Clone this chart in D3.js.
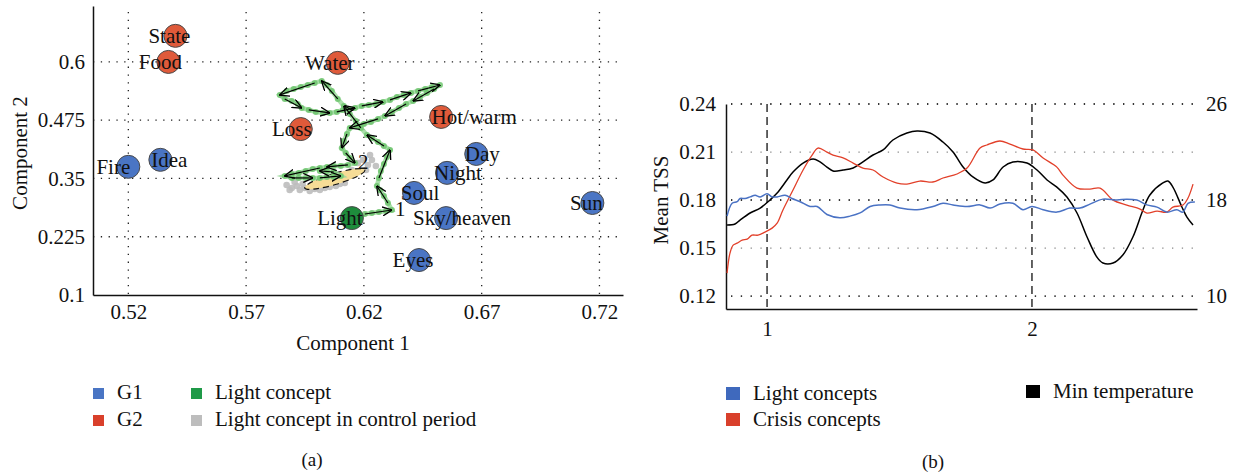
<!DOCTYPE html>
<html lang="en">
<head>
<meta charset="utf-8">
<title>Light concept trajectory and TSS</title>
<script src="https://cdn.jsdelivr.net/npm/d3@7"></script>
<style>
body { margin: 0; background: #fff; }
svg { display: block; }
text { font-family: "Liberation Serif", "DejaVu Serif", serif; fill: #111; }
.axis path { stroke: #111; stroke-width: 1.5px; }
.axis text { font-size: 21px; }
.grid { stroke: #222; stroke-width: 1.3px; stroke-dasharray: 1.3,6.5; }
.gridgrey { stroke: #888; stroke-width: 1.3px; stroke-dasharray: 1.3,8.5; }
.gridblack { stroke: #111; stroke-width: 1.3px; stroke-dasharray: 1.3,8.5; }
</style>
</head>
<body>
<script>
// ---- panel (a): concepts in component space ----
var concepts = ["State", "Food", "Fire", "Idea", "Loss", "Water", "Hot/warm", "Day", "Night", "Soul", "Sky/heaven", "Sun", "Eyes", "Light"];
var comp1 = [0.540, 0.537, 0.520, 0.5336, 0.5932, 0.6089, 0.6528, 0.6677, 0.6553, 0.6413, 0.6549, 0.717, 0.6434, 0.6149];
var comp2 = [0.656, 0.600, 0.375, 0.390, 0.456, 0.598, 0.482, 0.4026, 0.362, 0.319, 0.265, 0.2974, 0.175, 0.265];
var groups = ["G2", "G2", "G1", "G1", "G2", "G2", "G2", "G1", "G1", "G1", "G1", "G1", "G1", "Light"];

var xTicksA = [0.52, 0.57, 0.62, 0.67, 0.72];
var yTicksA = [0.1, 0.225, 0.35, 0.475, 0.6];

// trajectory of the light concept (component 1, component 2)
var trajectory = [
  [0.6204, 0.2738], [0.6234, 0.2760], [0.6264, 0.2781], [0.6294, 0.2803], [0.6319, 0.2824],
  [0.6302, 0.2974], [0.6285, 0.3124], [0.6268, 0.3253], [0.6255, 0.3339],
  [0.6264, 0.3511], [0.6272, 0.3661], [0.6285, 0.3811], [0.6298, 0.3961], [0.6311, 0.4112],
  [0.6285, 0.4197], [0.6260, 0.4283], [0.6234, 0.4369], [0.6213, 0.4433],
  [0.6187, 0.4584], [0.6166, 0.4734], [0.6140, 0.4884], [0.6115, 0.5056], [0.6089, 0.5206], [0.6064, 0.5378], [0.6043, 0.5506], [0.6021, 0.5592],
  [0.5991, 0.5549], [0.5962, 0.5506], [0.5932, 0.5464], [0.5902, 0.5421], [0.5872, 0.5378], [0.5843, 0.5292],
  [0.5864, 0.5206], [0.5894, 0.5163], [0.5919, 0.5099], [0.5936, 0.5013],
  [0.5966, 0.4970], [0.5996, 0.4927], [0.6026, 0.4906], [0.6055, 0.4906],
  [0.6085, 0.4927], [0.6111, 0.4970], [0.6136, 0.4991], [0.6162, 0.5013],
  [0.6191, 0.5056], [0.6221, 0.5077], [0.6251, 0.5099], [0.6281, 0.5142], [0.6311, 0.5185], [0.6340, 0.5249],
  [0.6370, 0.5292], [0.6400, 0.5335], [0.6430, 0.5378], [0.6460, 0.5421], [0.6489, 0.5464], [0.6523, 0.5506],
  [0.6498, 0.5421], [0.6468, 0.5335], [0.6438, 0.5249], [0.6409, 0.5163], [0.6379, 0.5099], [0.6349, 0.5013],
  [0.6319, 0.4927], [0.6289, 0.4841], [0.6260, 0.4777], [0.6230, 0.4712], [0.6200, 0.4670], [0.6170, 0.4627], [0.6140, 0.4584],
  [0.6128, 0.4455], [0.6115, 0.4305], [0.6106, 0.4155],
  [0.6123, 0.4047], [0.6140, 0.3940], [0.6162, 0.3833],
  [0.6132, 0.3790], [0.6102, 0.3768], [0.6072, 0.3768], [0.6043, 0.3747], [0.6013, 0.3725],
  [0.5983, 0.3704], [0.5953, 0.3661], [0.5923, 0.3618], [0.5894, 0.3597], [0.5864, 0.3554],
  [0.5894, 0.3511], [0.5923, 0.3511], [0.5953, 0.3511], [0.5983, 0.3511], [0.6013, 0.3511],
  [0.6043, 0.3532], [0.6072, 0.3532], [0.6102, 0.3554],
  [0.6072, 0.3639], [0.6043, 0.3661], [0.6013, 0.3661]
];
// arrows: from step to step along the trajectory
var arrowSteps = [[0, 4], [5, 8], [9, 13], [14, 17], [18, 21], [22, 25], [26, 31], [32, 35], [36, 39],
  [40, 43], [44, 47], [48, 51], [52, 55], [56, 59], [60, 63], [64, 68], [69, 71], [72, 74],
  [75, 78], [79, 84], [85, 88], [89, 92], [93, 95]];
var periodMarks = [[4, "1"], [74, "2"]];

// light concept in the control period
var controlPoints = [
  [0.5872, 0.3361], [0.5894, 0.3296], [0.5915, 0.3339], [0.5928, 0.3253], [0.5949, 0.3296], [0.5970, 0.3232],
  [0.5991, 0.3275], [0.6013, 0.3253], [0.6034, 0.3296], [0.6055, 0.3318], [0.6081, 0.3339], [0.6098, 0.3382],
  [0.5906, 0.3425], [0.5940, 0.3382], [0.5979, 0.3339], [0.5885, 0.3253], [0.6004, 0.3339], [0.6119, 0.3404],
  [0.6174, 0.3833], [0.6196, 0.3897], [0.6217, 0.3790], [0.6234, 0.3897], [0.6251, 0.3768], [0.6209, 0.3682],
  [0.6149, 0.3682], [0.6226, 0.4004]
];
// ellipse: major axis end points
var ellipseEnds = [[0.5949, 0.3296], [0.6204, 0.3682]];

// ---- panel (b): mean TSS over time ----
var lightTime = [0.849, 0.868, 0.887, 0.898, 0.917, 0.936, 0.955, 0.974, 1.0, 1.019, 1.038, 1.068, 1.094, 1.125, 1.162, 1.189,
  1.226, 1.275, 1.313, 1.351, 1.389, 1.426, 1.464, 1.502, 1.566, 1.626, 1.664, 1.702, 1.755, 1.804, 1.842, 1.879, 1.928,
  1.966, 2.0, 2.042, 2.094, 2.143, 2.181, 2.219, 2.268, 2.321, 2.358, 2.396, 2.434, 2.472, 2.509, 2.547, 2.570, 2.589, 2.615];
var lightTSS = [0.170, 0.178, 0.179, 0.181, 0.181, 0.182, 0.183, 0.182, 0.184, 0.182, 0.182, 0.183, 0.181, 0.179, 0.176, 0.176,
  0.171, 0.169, 0.170, 0.172, 0.176, 0.177, 0.177, 0.175, 0.174, 0.176, 0.178, 0.177, 0.176, 0.177, 0.175, 0.1775, 0.178,
  0.174, 0.176, 0.174, 0.1725, 0.175, 0.175, 0.1775, 0.1806, 0.180, 0.1806, 0.180, 0.177, 0.1756, 0.1725, 0.174, 0.1725, 0.178, 0.1788];

var crisisTime = [0.849, 0.860, 0.872, 0.887, 0.906, 0.925, 0.943, 0.966, 0.992, 1.019, 1.038, 1.060, 1.098, 1.136, 1.170, 1.192,
  1.226, 1.249, 1.287, 1.325, 1.362, 1.400, 1.438, 1.491, 1.528, 1.577, 1.626, 1.664, 1.717, 1.755, 1.804, 1.830, 1.879, 1.917,
  1.966, 2.004, 2.042, 2.094, 2.117, 2.170, 2.219, 2.257, 2.306, 2.358, 2.408, 2.434, 2.472, 2.509, 2.532, 2.570, 2.589, 2.608];
var crisisTSS = [0.1344, 0.1469, 0.1519, 0.1531, 0.155, 0.1556, 0.1581, 0.1581, 0.160, 0.1625, 0.1656, 0.1738, 0.1863, 0.1988, 0.2081, 0.2125,
  0.210, 0.2081, 0.2063, 0.2031, 0.200, 0.1988, 0.1944, 0.1906, 0.190, 0.1919, 0.1913, 0.1938, 0.1963, 0.200, 0.2125, 0.2144, 0.2169, 0.215,
  0.2119, 0.2113, 0.2063, 0.2006, 0.1956, 0.1875, 0.1869, 0.1875, 0.180, 0.1769, 0.1744, 0.1719, 0.1731, 0.1725, 0.1756, 0.1769, 0.1813, 0.190];

var tempTime = [0.849, 0.879, 0.898, 0.936, 0.974, 1.011, 1.038, 1.075, 1.098, 1.136, 1.174, 1.200, 1.226, 1.249, 1.287, 1.325,
  1.362, 1.400, 1.438, 1.475, 1.528, 1.566, 1.615, 1.664, 1.702, 1.740, 1.777, 1.823, 1.853, 1.891, 1.928, 1.981, 2.019,
  2.057, 2.094, 2.132, 2.170, 2.208, 2.245, 2.268, 2.306, 2.343, 2.381, 2.419, 2.445, 2.494, 2.513, 2.532, 2.566, 2.585, 2.608];
var minTemp = [15.92, 16.0, 16.33, 16.92, 17.33, 18.0, 18.58, 19.67, 20.33, 21.08, 21.42, 21.17, 20.75, 20.42, 20.5, 20.67,
  21.17, 21.75, 22.17, 23.0, 23.58, 23.75, 23.58, 22.83, 22.0, 20.75, 19.92, 19.42, 19.67, 20.75, 21.17, 21.08, 20.5,
  19.67, 19.08, 18.25, 16.92, 14.92, 13.25, 12.75, 12.75, 13.42, 14.92, 17.17, 18.42, 19.42, 19.58, 19.08, 17.42, 16.58, 15.92];

var tssTicks = [0.12, 0.15, 0.18, 0.21, 0.24];
var tempTicks = [10, 18, 26];
var periodTicks = [1, 2];

var colors = { G1: "#4a75c4", G2: "#df5a3a", Light: "#1e8c3c" };

var svg = d3.select("body").append("svg")
  .attr("width", 1233)
  .attr("height", 473);

// ================= panel (a) =================
var xA = d3.scaleLinear().domain([0.505, 0.73]).range([93, 623]);
var yA = d3.scaleLinear().domain([0.1, 0.72]).range([295, 6]);

var ga = svg.append("g");

ga.selectAll("line.vgrid")
  .data(xTicksA)
  .enter().append("line")
  .attr("class", "grid")
  .attr("x1", function(d) { return xA(d); })
  .attr("x2", function(d) { return xA(d); })
  .attr("y1", yA.range()[1] + 6)
  .attr("y2", yA.range()[0]);
ga.selectAll("line.hgrid")
  .data(yTicksA.slice(1))
  .enter().append("line")
  .attr("class", "grid")
  .attr("x1", xA.range()[0])
  .attr("x2", xA.range()[1])
  .attr("y1", function(d) { return yA(d); })
  .attr("y2", function(d) { return yA(d); });

ga.append("g")
  .attr("class", "axis")
  .attr("transform", "translate(0,295)")
  .call(d3.axisBottom(xA).tickValues(xTicksA).tickSize(0).tickSizeOuter(0).tickPadding(9).tickFormat(String));
ga.append("g")
  .attr("class", "axis")
  .attr("transform", "translate(93,0)")
  .call(d3.axisLeft(yA).tickValues(yTicksA).tickSize(0).tickSizeOuter(0).tickPadding(8).tickFormat(String));

ga.append("text")
  .attr("x", 353).attr("y", 350)
  .attr("text-anchor", "middle")
  .style("font-size", "21px")
  .text("Component 1");
ga.append("text")
  .attr("transform", "translate(27,153) rotate(-90)")
  .attr("text-anchor", "middle")
  .style("font-size", "21px")
  .text("Component 2");

// control period
ga.selectAll("circle.ctrl")
  .data(controlPoints)
  .enter().append("circle")
  .attr("cx", function(d) { return xA(d[0]); })
  .attr("cy", function(d) { return yA(d[1]); })
  .attr("r", 3.3)
  .attr("fill", "#bdbdbd")
  .attr("opacity", 0.9);

// ellipse
var e0 = [xA(ellipseEnds[0][0]), yA(ellipseEnds[0][1])];
var e1 = [xA(ellipseEnds[1][0]), yA(ellipseEnds[1][1])];
var ecx = (e0[0] + e1[0]) / 2, ecy = (e0[1] + e1[1]) / 2;
var erx = Math.hypot(e1[0] - e0[0], e1[1] - e0[1]) / 2;
var eang = Math.atan2(e1[1] - e0[1], e1[0] - e0[0]) * 180 / Math.PI;
ga.append("ellipse")
  .attr("cx", ecx).attr("cy", ecy)
  .attr("rx", erx).attr("ry", 5.5)
  .attr("transform", "rotate(" + eang + "," + ecx + "," + ecy + ")")
  .attr("fill", "#f6dc96")
  .attr("stroke", "#111")
  .attr("stroke-width", 1.2)
  .attr("stroke-dasharray", "6,4");

// trajectory
ga.append("path")
  .datum(trajectory)
  .attr("fill", "none")
  .attr("stroke", "#9bd99b")
  .attr("stroke-width", 4.5)
  .attr("opacity", 0.85)
  .attr("d", d3.line().x(function(d) { return xA(d[0]); }).y(function(d) { return yA(d[1]); }));
ga.selectAll("circle.traj")
  .data(trajectory)
  .enter().append("circle")
  .attr("cx", function(d) { return xA(d[0]); })
  .attr("cy", function(d) { return yA(d[1]); })
  .attr("r", 3)
  .attr("fill", "#6fc46f")
  .attr("opacity", 0.85);

svg.append("defs").append("marker")
  .attr("id", "arr")
  .attr("viewBox", "0 0 10 10")
  .attr("refX", 9.5).attr("refY", 5)
  .attr("markerWidth", 10).attr("markerHeight", 10)
  .attr("markerUnits", "userSpaceOnUse")
  .attr("orient", "auto")
  .append("path")
  .attr("d", "M0,0.5 L10,5 L0,9.5")
  .attr("fill", "none")
  .attr("stroke", "#000")
  .attr("stroke-width", 1.3);

ga.selectAll("line.arrow")
  .data(arrowSteps)
  .enter().append("line")
  .attr("x1", function(d) { return xA(trajectory[d[0]][0]); })
  .attr("y1", function(d) { return yA(trajectory[d[0]][1]); })
  .attr("x2", function(d) { return xA(trajectory[d[1]][0]); })
  .attr("y2", function(d) { return yA(trajectory[d[1]][1]); })
  .attr("stroke", "#000")
  .attr("stroke-width", 1.2)
  .attr("marker-end", "url(#arr)");

ga.selectAll("text.period")
  .data(periodMarks)
  .enter().append("text")
  .attr("x", function(d) { return xA(trajectory[d[0]][0]) + 3; })
  .attr("y", function(d) { return yA(trajectory[d[0]][1]) + 6; })
  .style("font-size", "21px")
  .text(function(d) { return d[1]; });

// concepts
var labelShift = { "State": -6, "Food": -8, "Fire": -15, "Idea": 9, "Loss": -9, "Water": -8, "Hot/warm": 33,
  "Day": 6, "Night": 11, "Soul": 6, "Sky/heaven": 16, "Sun": -6, "Eyes": -6, "Light": -12 };

ga.selectAll("circle.concept")
  .data(concepts)
  .enter().append("circle")
  .attr("cx", function(d, i) { return xA(comp1[i]); })
  .attr("cy", function(d, i) { return yA(comp2[i]); })
  .attr("r", 11.5)
  .attr("fill", function(d, i) { return colors[groups[i]]; })
  .attr("stroke", "#4a4a4a")
  .attr("stroke-width", 1);
ga.selectAll("text.concept")
  .data(concepts)
  .enter().append("text")
  .attr("x", function(d, i) { return xA(comp1[i]) + labelShift[d]; })
  .attr("y", function(d, i) { return yA(comp2[i]) + 7; })
  .attr("text-anchor", "middle")
  .style("font-size", "21px")
  .text(function(d) { return d; });

// legend (a)
var legendA = [["G1", colors.G1, 93, 388], ["G2", "#d9402b", 93, 415],
  ["Light concept", "#1f9a48", 191, 388], ["Light concept in control period", "#bdbdbd", 191, 415]];
var la = ga.selectAll("g.lega").data(legendA).enter().append("g");
la.append("rect")
  .attr("x", function(d) { return d[2]; }).attr("y", function(d) { return d[3]; })
  .attr("width", 11).attr("height", 11)
  .attr("fill", function(d) { return d[1]; });
la.append("text")
  .attr("x", function(d) { return d[2] + 24; }).attr("y", function(d) { return d[3] + 11; })
  .style("font-size", "21px")
  .text(function(d) { return d[0]; });
ga.append("text").attr("x", 312).attr("y", 466).attr("text-anchor", "middle").style("font-size", "19px").text("(a)");

// ================= panel (b) =================
var xB = d3.scaleLinear().domain([0.845, 2.623]).range([726, 1197]);
var yB = d3.scaleLinear().domain([0.112, 0.24]).range([309, 104]);
var yT = d3.scaleLinear().domain([8.92, 26]).range([309, 104]);

var gb = svg.append("g");

gb.selectAll("line.tgrid")
  .data(tssTicks)
  .enter().append("line")
  .attr("class", "gridgrey")
  .attr("x1", 731).attr("x2", 1197)
  .attr("y1", function(d) { return yB(d); })
  .attr("y2", function(d) { return yB(d); });
gb.selectAll("line.kgrid")
  .data(tempTicks)
  .enter().append("line")
  .attr("class", "gridblack")
  .attr("x1", 731).attr("x2", 1197)
  .attr("y1", function(d) { return yT(d); })
  .attr("y2", function(d) { return yT(d); });

gb.selectAll("line.period")
  .data(periodTicks)
  .enter().append("line")
  .attr("x1", function(d) { return xB(d); })
  .attr("x2", function(d) { return xB(d); })
  .attr("y1", yB(0.24)).attr("y2", 309)
  .attr("stroke", "#222")
  .attr("stroke-width", 1.4)
  .attr("stroke-dasharray", "8,5");

gb.append("g")
  .attr("class", "axis")
  .attr("transform", "translate(0,309)")
  .call(d3.axisBottom(xB).tickValues(periodTicks).tickSize(0).tickSizeOuter(0).tickPadding(12).tickFormat(String));
gb.append("g")
  .attr("class", "axis")
  .attr("transform", "translate(726,0)")
  .call(d3.axisLeft(yB).tickValues(tssTicks).tickSize(0).tickSizeOuter(0).tickPadding(10).tickFormat(String));
var rightAxis = gb.append("g")
  .attr("class", "axis")
  .attr("transform", "translate(1197,0)")
  .call(d3.axisRight(yT).tickValues(tempTicks).tickSize(0).tickPadding(9));
rightAxis.select(".domain").remove();

gb.append("text")
  .attr("transform", "translate(668,200) rotate(-90)")
  .attr("text-anchor", "middle")
  .style("font-size", "21px")
  .text("Mean TSS");

var lineTSS = d3.line()
  .x(function(d) { return xB(d[0]); })
  .y(function(d) { return yB(d[1]); });
var lineTemp = d3.line()
  .curve(d3.curveCatmullRom)
  .x(function(d) { return xB(d[0]); })
  .y(function(d) { return yT(d[1]); });

gb.append("path")
  .datum(d3.zip(tempTime, minTemp))
  .attr("fill", "none").attr("stroke", "#000").attr("stroke-width", 1.5)
  .attr("d", lineTemp);
gb.append("path")
  .datum(d3.zip(crisisTime, crisisTSS))
  .attr("fill", "none").attr("stroke", "#e2402a").attr("stroke-width", 1.3)
  .attr("d", lineTSS.curve(d3.curveCatmullRom));
gb.append("path")
  .datum(d3.zip(lightTime, lightTSS))
  .attr("fill", "none").attr("stroke", "#4a72c4").attr("stroke-width", 1.5)
  .attr("d", lineTSS.curve(d3.curveCatmullRom));

// legend (b)
var legendB = [["Light concepts", "#3f69bd", 726, 387], ["Crisis concepts", "#d9402b", 726, 413],
  ["Min temperature", "#000", 1026, 385]];
var lb = gb.selectAll("g.legb").data(legendB).enter().append("g");
lb.append("rect")
  .attr("x", function(d) { return d[2]; }).attr("y", function(d) { return d[3]; })
  .attr("width", 14).attr("height", 13)
  .attr("fill", function(d) { return d[1]; });
lb.append("text")
  .attr("x", function(d) { return d[2] + 27; }).attr("y", function(d) { return d[3] + 13; })
  .style("font-size", "21px")
  .text(function(d) { return d[0]; });
gb.append("text").attr("x", 933).attr("y", 468).attr("text-anchor", "middle").style("font-size", "19px").text("(b)");
</script>
</body>
</html>
